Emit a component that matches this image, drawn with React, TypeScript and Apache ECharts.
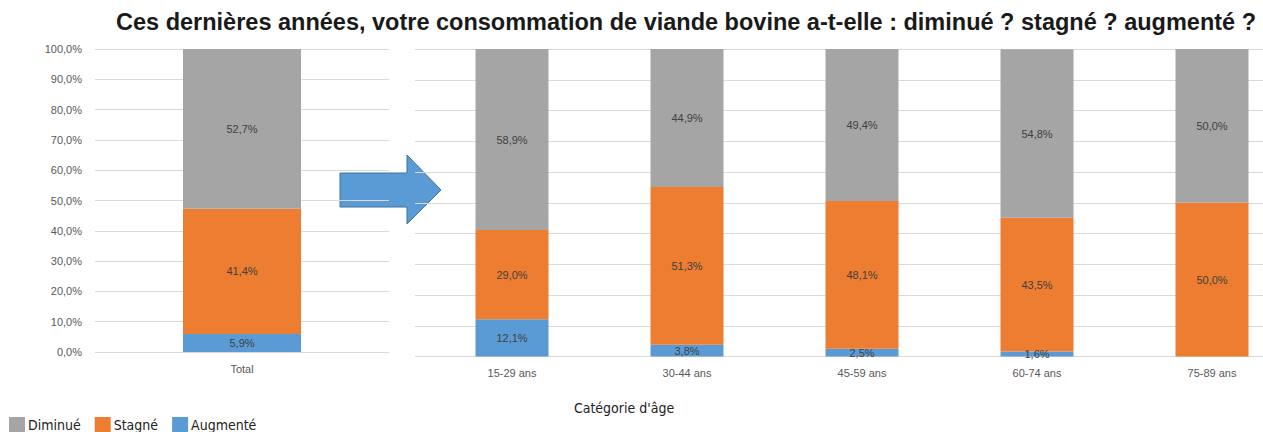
import React, { useEffect, useRef } from "react";
import * as echarts from "echarts";

const totalCategories = ["Total"];
const ageCategories = ["15-29 ans", "30-44 ans", "45-59 ans", "60-74 ans", "75-89 ans"];
const seriesNames = ["Diminué", "Stagné", "Augmenté"];

const totalDiminue = [52.7];
const totalStagne = [41.4];
const totalAugmente = [5.9];

const ageDiminue = [58.9, 44.9, 49.4, 54.8, 50.0];
const ageStagne = [29.0, 51.3, 48.1, 43.5, 50.0];
const ageAugmente = [12.1, 3.8, 2.5, 1.6, 0];

const yTicks = [0, 10, 20, 30, 40, 50, 60, 70, 80, 90, 100];

const colors: Record<string, string> = {
  "Diminué": "#A5A5A5",
  "Stagné": "#ED7D31",
  "Augmenté": "#5B9BD5",
};

const labelFont = "'Liberation Sans', Arial, sans-serif";
const narrowFont = "'Liberation Sans Narrow', 'DejaVu Sans Condensed', 'Liberation Sans', sans-serif";

const fmt = (v: number) => v.toFixed(1).replace(".", ",") + "%";

export default function App() {
  const ref = useRef<HTMLDivElement>(null);
  useEffect(() => {
    if (!ref.current) return;
    const chart = echarts.init(ref.current, undefined, { renderer: "svg" });

    const barLabel = {
      show: true,
      position: "inside",
      color: "#404040",
      fontSize: 11,
      fontFamily: labelFont,
      formatter: (p: any) => (p.value > 0 ? fmt(p.value) : ""),
    };

    const mk = (name: string, data: number[], axis: number, stack: string, width: number) => ({
      type: "bar",
      name,
      data,
      xAxisIndex: axis,
      yAxisIndex: axis,
      stack,
      barWidth: width,
      itemStyle: { color: colors[name] },
      label: barLabel,
      emphasis: { disabled: true },
    });

    const yCommon = {
      type: "value",
      min: 0,
      max: 100,
      interval: 10,
      axisLine: { show: false },
      axisTick: { show: false },
      splitLine: { show: true, lineStyle: { color: "#D9D9D9", width: 1 } },
    };

    const xLabel = { color: "#595959", fontSize: 11, fontFamily: labelFont, margin: 11 };

    chart.setOption({
      animation: false,
      title: {
        text: "Ces dernières années, votre consommation de viande bovine a-t-elle : diminué ? stagné ? augmenté ?",
        left: 111,
        top: 5,
        textStyle: { fontSize: 23.5, fontWeight: "bold", color: "#1a1a1a", fontFamily: labelFont },
      },
      legend: {
        data: seriesNames,
        left: 4,
        top: 412,
        itemWidth: 16,
        itemHeight: 16,
        itemGap: 14,
        icon: "rect",
        textStyle: { fontSize: 14, color: "#222", fontFamily: narrowFont, padding: [0, 0, 0, -2] },
      },
      grid: [
        { left: 95, width: 294, top: 49, height: 303, outerBoundsMode: "none", containLabel: false },
        { left: 424.5, width: 875, top: 49, height: 307.5, outerBoundsMode: "none", containLabel: false },
        { left: 415, width: 848, top: 49, height: 307.5, outerBoundsMode: "none", containLabel: false },
      ],
      xAxis: [
        {
          type: "category",
          gridIndex: 0,
          data: totalCategories,
          axisLine: { show: false },
          axisTick: { show: false },
          axisLabel: xLabel,
        },
        {
          type: "category",
          gridIndex: 1,
          data: ageCategories,
          axisLine: { show: false },
          axisTick: { show: false },
          axisLabel: xLabel,
        },
        { type: "value", gridIndex: 2, show: false },
      ],
      yAxis: [
        {
          ...yCommon,
          gridIndex: 0,
          axisLabel: {
            color: "#595959",
            fontSize: 11,
            fontFamily: labelFont,
            margin: 13,
            formatter: (v: number) => (yTicks.includes(v) ? fmt(v) : ""),
          },
        },
        { ...yCommon, gridIndex: 1, axisLabel: { show: false }, splitLine: { show: false } },
        { ...yCommon, gridIndex: 2, axisLabel: { show: false } },
      ],
      series: [
        mk("Augmenté", totalAugmente, 0, "t", 118),
        mk("Stagné", totalStagne, 0, "t", 118),
        mk("Diminué", totalDiminue, 0, "t", 118),
        mk("Augmenté", ageAugmente, 1, "a", 73),
        mk("Stagné", ageStagne, 1, "a", 73),
        mk("Diminué", ageDiminue, 1, "a", 73),
      ],
      graphic: [
        {
          type: "polygon",
          shape: {
            points: [
              [340, 173],
              [407, 173],
              [407, 155],
              [441, 190],
              [407, 224],
              [407, 207],
              [340, 207],
            ],
          },
          style: { fill: "#5B9BD5", stroke: "#41719C", lineWidth: 1 },
        },
        {
          type: "text",
          x: 624,
          y: 408,
          style: {
            text: "Catégorie d'âge",
            fontSize: 14,
            fontFamily: narrowFont,
            fill: "#222",
            align: "center",
            verticalAlign: "middle",
          },
        },
      ],
    });
    return () => chart.dispose();
  }, []);
  return (
    <div
      ref={ref}
      style={{ position: "fixed", left: 0, top: 0, width: 1263, height: 432, background: "#fff" }}
    />
  );
}
